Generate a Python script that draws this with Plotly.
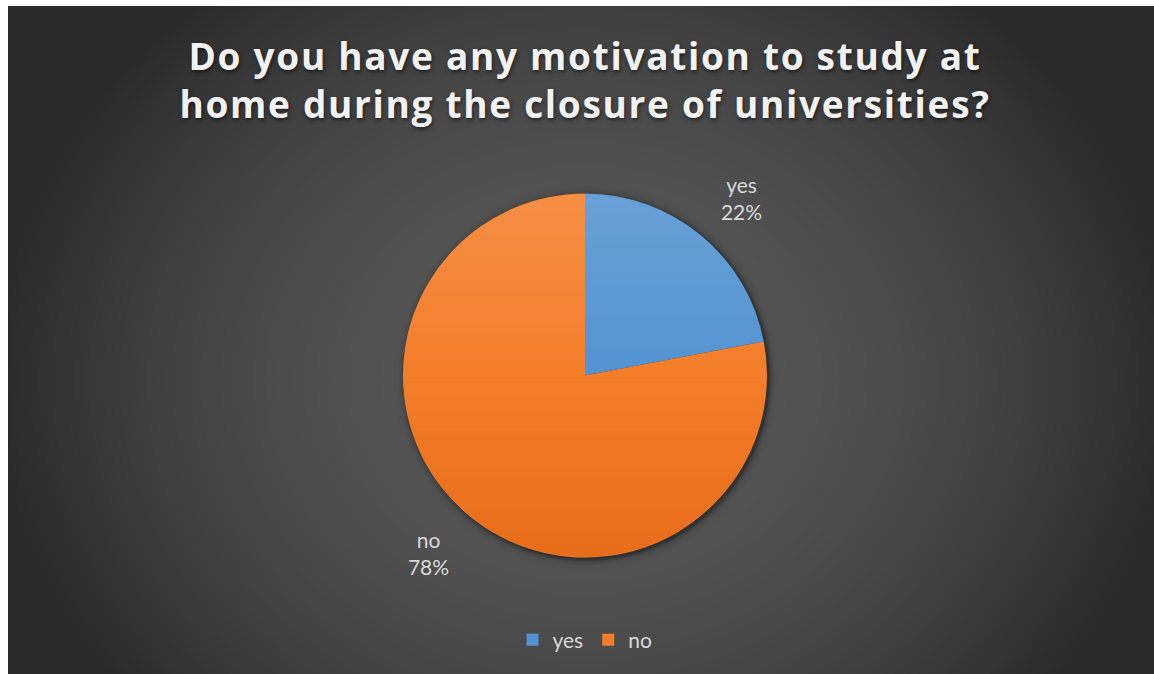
import base64
import struct
import zlib

import numpy as np
import plotly.graph_objects as go

# ---- data ----
labels = ["yes", "no"]
values = [22, 78]
slice_colors = ["#5393D2", "#F47E2A"]
title_lines = [
    "Do you have any motivation to study at",
    "home during the closure of universities?",
]

# ---- canvas geometry (pixels) ----
W, H = 1154, 674
FRAME_X, FRAME_Y = 8, 6          # white frame around the dark chart area
CX, CY, R = 585.0, 375.5, 182.0  # pie centre and radius


def png_uri(arr):
    """Encode an HxWx3 / HxWx4 uint8 array as a base64 PNG data URI."""
    h, w, c = arr.shape
    a = arr.astype(np.int16)
    f = a.copy()
    f[:, 1:, :] = (a[:, 1:, :] - a[:, :-1, :]) % 256  # PNG "Sub" filter
    f = f.astype(np.uint8).reshape(h, w * c)
    raw = np.hstack([np.ones((h, 1), np.uint8), f]).tobytes()

    def chunk(tag, data):
        return (struct.pack(">I", len(data)) + tag + data
                + struct.pack(">I", zlib.crc32(tag + data) & 0xFFFFFFFF))

    ctype = 6 if c == 4 else 2
    png = (b"\x89PNG\r\n\x1a\n"
           + chunk(b"IHDR", struct.pack(">IIBBBBB", w, h, 8, ctype, 0, 0, 0))
           + chunk(b"IDAT", zlib.compress(raw, 9))
           + chunk(b"IEND", b""))
    return "data:image/png;base64," + base64.b64encode(png).decode()


# ---- dark radial-gradient chart background with a soft pie shadow ----
yy, xx = np.mgrid[0:H, 0:W].astype(float) + 0.5
t2 = ((xx - 585) / 590) ** 2 + ((yy - 380) / 500) ** 2
bg = 42 + 46 * np.clip(1 - t2, 0, 1)
dist = np.hypot(xx - (CX + 2), yy - (CY + 2)) - R
bg *= 1 - 0.4 * np.exp(-np.maximum(dist, 0) / 3.0)
bg[:FRAME_Y, :] = 255
bg[:, :FRAME_X] = 255
bg_rgb = np.repeat(bg[..., None], 3, axis=2).round().clip(0, 255).astype(np.uint8)

# ---- vertical shading laid over the pie (lighter top, deeper bottom) ----
n = int(round(2 * R))
py, px = np.mgrid[0:n, 0:n].astype(float) + 0.5
cover = np.clip(R - np.hypot(px - R, py - R), 0, 1)
s = py / n
upper = s < 0.5
alpha = np.where(upper, 0.13 * (1 - 2 * s), 0.38 * (2 * s - 1)) * cover
shade = np.zeros((n, n, 4))
shade[..., 0] = np.where(upper, 255, 210)
shade[..., 1] = np.where(upper, 255, 80)
shade[..., 2] = np.where(upper, 255, 0)
shade[..., 3] = alpha * 255
shade = shade.round().clip(0, 255).astype(np.uint8)

fig = go.Figure(
    go.Pie(
        labels=labels,
        values=values,
        sort=False,
        direction="clockwise",
        rotation=0,
        marker=dict(colors=slice_colors, line=dict(width=0)),
        # a blank line nudges each outside label further from the pie
        texttemplate=["%{label}<br>%{percent}<br> ", " <br>%{label}<br>%{percent}"],
        textposition="outside",
        outsidetextfont=dict(family="Lato", size=21, color="#D9D9D9"),
        domain=dict(
            x=[(CX - R) / W, (CX + R) / W],
            y=[(H - CY - R) / H, (H - CY + R) / H],
        ),
        hoverinfo="label+percent",
    )
)

fig.update_layout(
    width=W,
    height=H,
    autosize=False,
    margin=dict(l=0, r=0, t=0, b=0),
    paper_bgcolor="#FFFFFF",
    plot_bgcolor="rgba(0,0,0,0)",
    title=dict(
        text="<br>".join(title_lines),
        x=585 / W,
        xanchor="center",
        y=1 - 70 / H,
        yanchor="middle",
        font=dict(family="Open Sans", size=37, weight=700, color="#F2F2F2",
                  shadow="1px 2px 4px rgba(0,0,0,0.55)"),
    ),
    legend=dict(
        orientation="h",
        x=585 / W,
        xanchor="center",
        y=(H - 640) / H,
        yanchor="middle",
        font=dict(family="Lato", size=21, color="#D9D9D9"),
        bgcolor="rgba(0,0,0,0)",
    ),
    images=[
        dict(source=png_uri(bg_rgb), xref="paper", yref="paper",
             x=0, y=1, sizex=1, sizey=1, xanchor="left", yanchor="top",
             sizing="stretch", layer="below"),
        dict(source=png_uri(shade), xref="paper", yref="paper",
             x=(CX - R) / W, y=1 - (CY - R) / H, sizex=2 * R / W, sizey=2 * R / H,
             xanchor="left", yanchor="top", sizing="stretch", layer="above"),
    ],
)

# widen the title's letter spacing once the chart has been drawn
spacing_js = (
    "document.querySelectorAll('.gtitle').forEach(function(t){"
    "t.style.letterSpacing='1.7px';});"
)

fig.write_html("out.html", config={"displayModeBar": False}, post_script=spacing_js)
